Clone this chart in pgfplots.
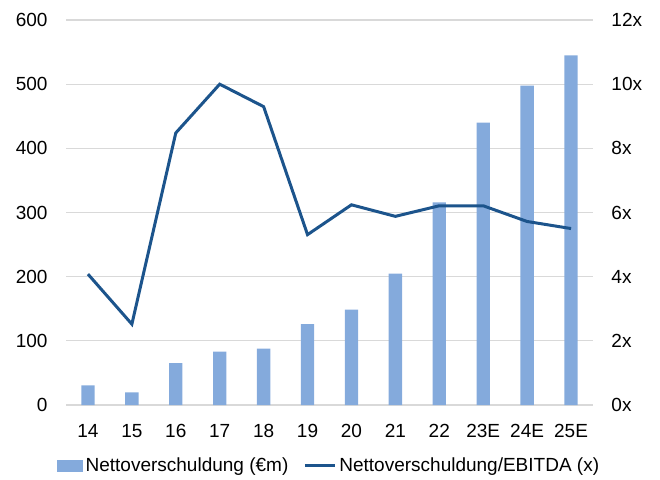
\documentclass[border=0pt]{standalone}
\usepackage{pgfplots}
\pgfplotsset{compat=1.18}
\usepackage{fontspec}
\setmainfont{Liberation Sans}
\definecolor{barblue}{RGB}{132,170,220}
\definecolor{lineblue}{RGB}{28,84,140}
\definecolor{gridgray}{RGB}{217,217,217}
\begin{document}
\begin{tikzpicture}[font=\fontsize{9.5}{11}\selectfont]
\path[use as bounding box] (-33pt,-37pt) rectangle (297pt,202.5pt);
\pgfplotsset{
  common/.style={
    scale only axis, width=263.5pt, height=192.5pt,
    xmin=-0.5, xmax=11.5,
    axis line style={draw=none},
    major tick length=0pt,
    /pgf/number format/assume math mode=true,
    tick label style={font=\fontsize{9.5}{11}\selectfont, text=black},
  }
}
\begin{axis}[
  common,
  ymin=0, ymax=600,
  ytick={0,100,...,600},
  ymajorgrids, grid style={gridgray, line width=0.6pt},
  xtick={0,...,11},
  xticklabels={14,15,16,17,18,19,20,21,22,23E,24E,25E},
  xticklabel style={yshift=-6pt},
  yticklabel style={xshift=-5.7pt},
]
\addplot[ybar, bar width=6.65pt, fill=barblue, draw=none] coordinates {
(0,30.5) (1,19.6) (2,65.4) (3,83) (4,88) (5,126) (6,148.5) (7,204.6) (8,315.7) (9,440) (10,497.6) (11,544.8)
};
\end{axis}
\begin{axis}[
  common,
  ymin=0, ymax=12,
  ytick={0,2,...,12},
  axis y line*=right,
  xtick=\empty,
  yticklabel={\pgfmathprintnumber{\tick}x},
  yticklabel style={xshift=5.7pt},
  legend style={draw=none, fill=none, at={(0.5,-0.158)}, anchor=center,
    legend columns=2, font=\fontsize{9.5}{11}\selectfont,
    /tikz/every even column/.append style={column sep=6pt},
    inner sep=0pt, nodes={inner sep=1.5pt}},
]
\addlegendimage{legend image code/.code={\fill[barblue] (0pt,-2.6pt) rectangle (12.5pt,2.6pt);}}
\addlegendentry{Nettoverschuldung (€m)}
\addplot[lineblue, line width=1.5pt, mark=none,
  legend image code/.code={\draw[lineblue, line width=1.5pt] (0pt,0pt) -- (15pt,0pt);}] coordinates {
(0,4.08) (1,2.52) (2,8.48) (3,10.0) (4,9.30) (5,5.31) (6,6.24) (7,5.88) (8,6.21) (9,6.21) (10,5.72) (11,5.50)
};
\addlegendentry{Nettoverschuldung/EBITDA (x)}
\end{axis}
\end{tikzpicture}
\end{document}
